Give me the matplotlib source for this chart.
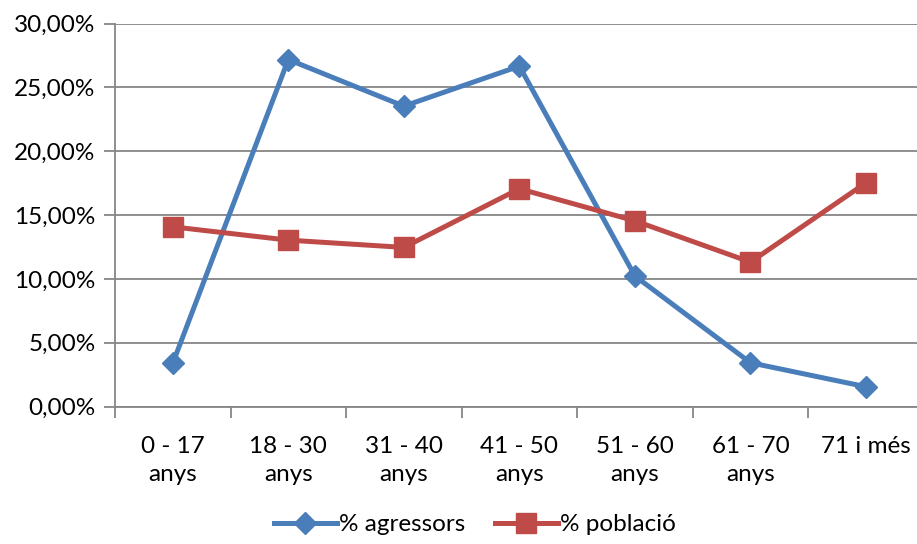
import numpy as np
import matplotlib.pyplot as plt
from matplotlib.ticker import FuncFormatter

# Age groups and percentages
categories = ['0 - 17\nanys', '18 - 30\nanys', '31 - 40\nanys', '41 - 50\nanys',
              '51 - 60\nanys', '61 - 70\nanys', '71 i més']
agressors = [3.40, 27.18, 23.53, 26.66, 10.23, 3.44, 1.56]
poblacio = [14.08, 13.04, 12.47, 17.06, 14.55, 11.32, 17.53]
y_ticks = [0, 5, 10, 15, 20, 25, 30]

plt.rcParams['font.family'] = ['Lato', 'DejaVu Sans']

fig = plt.figure(figsize=(9.17, 5.44), dpi=100)
ax = fig.add_axes([0.1254, 0.2524, 0.882, 0.7044])

x = np.arange(len(categories))
blue = '#4A7EBB'
red = '#BE4B48'
grey = '#868686'

ax.plot(x, agressors, color=blue, lw=3.6, marker='D', ms=11,
        label='% agressors', zorder=3)
ax.plot(x, poblacio, color=red, lw=3.6, marker='s', ms=14,
        label='% població', zorder=3)

ax.set_xlim(-0.5, len(categories) - 0.5)
ax.set_ylim(0, 30)
ax.set_yticks(y_ticks)
ax.yaxis.set_major_formatter(FuncFormatter(lambda v, p: f'{v:.2f}'.replace('.', ',') + '%'))
ax.grid(axis='y', color=grey, lw=1.3)
ax.set_axisbelow(True)

ax.set_xticks(x)
ax.set_xticklabels(categories, fontsize=17.5, linespacing=1.4)
ax.set_xticks(np.arange(-0.5, len(categories)), minor=True)
ax.tick_params(axis='x', which='major', length=0, pad=21)
ax.tick_params(axis='x', which='minor', length=8, width=1.3, color=grey)
ax.tick_params(axis='y', length=8, width=1.3, color=grey, labelsize=17.5, pad=6)

for side in ['top', 'right']:
    ax.spines[side].set_visible(False)
for side in ['left', 'bottom']:
    ax.spines[side].set_color(grey)
    ax.spines[side].set_linewidth(1.3)

fig.legend(loc='center', bbox_to_anchor=(0.518, 0.035), ncol=2, frameon=False,
           fontsize=17.5, handlelength=2.6, columnspacing=1.2, handletextpad=0.1)

fig.savefig('out.png', dpi=100)
